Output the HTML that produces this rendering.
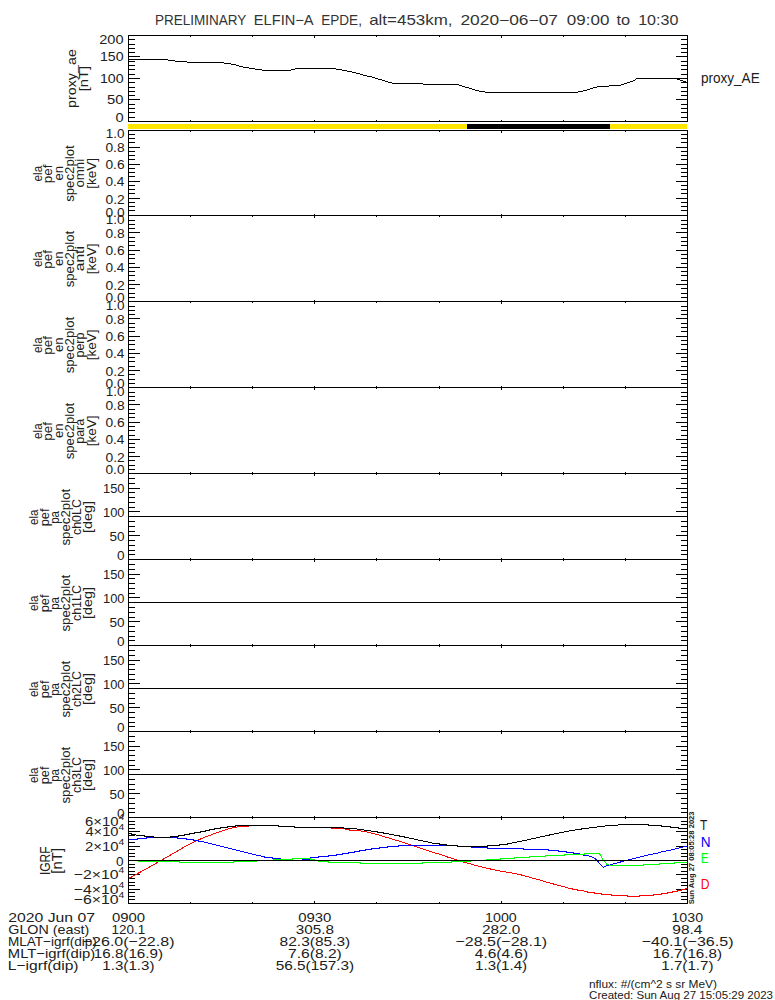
<!DOCTYPE html>
<html><head><meta charset="utf-8"><title>ELFIN-A EPDE</title>
<style>
html,body{margin:0;padding:0;background:#fff;}
svg{display:block;font-family:"Liberation Sans", sans-serif;}
</style></head>
<body>
<svg width="775" height="1000" viewBox="0 0 775 1000">
<rect x="0" y="0" width="775" height="1000" fill="#fff"/>
<text x="154.89" y="25" font-size="14.4" textLength="91.40" lengthAdjust="spacingAndGlyphs" fill="#333">PRELIMINARY</text>
<text x="253.80" y="25" font-size="14.4" textLength="59.83" lengthAdjust="spacingAndGlyphs" fill="#333">ELFIN−A</text>
<text x="321.29" y="25" font-size="14.4" textLength="40.63" lengthAdjust="spacingAndGlyphs" fill="#333">EPDE,</text>
<text x="369.18" y="25" font-size="14.4" textLength="83.34" lengthAdjust="spacingAndGlyphs" fill="#333">alt=453km,</text>
<text x="460.43" y="25" font-size="14.4" textLength="97.55" lengthAdjust="spacingAndGlyphs" fill="#333">2020−06−07</text>
<text x="566.84" y="25" font-size="14.4" textLength="42.53" lengthAdjust="spacingAndGlyphs" fill="#333">09:00</text>
<text x="616.55" y="25" font-size="14.4" textLength="13.63" lengthAdjust="spacingAndGlyphs" fill="#333">to</text>
<text x="638.17" y="25" font-size="14.4" textLength="40.25" lengthAdjust="spacingAndGlyphs" fill="#333">10:30</text>
<rect x="128" y="35" width="560" height="1" fill="#000"/>
<rect x="128" y="121" width="560" height="1" fill="#000"/>
<rect x="128" y="35" width="1" height="87" fill="#000"/>
<rect x="687" y="35" width="1" height="87" fill="#000"/>
<rect x="190" y="35" width="1" height="2" fill="#000"/>
<rect x="190" y="120" width="1" height="2" fill="#000"/>
<rect x="252" y="35" width="1" height="2" fill="#000"/>
<rect x="252" y="120" width="1" height="2" fill="#000"/>
<rect x="314" y="35" width="1" height="3" fill="#000"/>
<rect x="314" y="120" width="1" height="2" fill="#000"/>
<rect x="376" y="35" width="1" height="2" fill="#000"/>
<rect x="376" y="120" width="1" height="2" fill="#000"/>
<rect x="439" y="35" width="1" height="2" fill="#000"/>
<rect x="439" y="120" width="1" height="2" fill="#000"/>
<rect x="501" y="35" width="1" height="3" fill="#000"/>
<rect x="501" y="120" width="1" height="2" fill="#000"/>
<rect x="563" y="35" width="1" height="2" fill="#000"/>
<rect x="563" y="120" width="1" height="2" fill="#000"/>
<rect x="625" y="35" width="1" height="2" fill="#000"/>
<rect x="625" y="120" width="1" height="2" fill="#000"/>
<rect x="128" y="121" width="12" height="1" fill="#000"/>
<rect x="676" y="121" width="12" height="1" fill="#000"/>
<rect x="128" y="117" width="7" height="1" fill="#000"/>
<rect x="681" y="117" width="7" height="1" fill="#000"/>
<rect x="128" y="112" width="7" height="1" fill="#000"/>
<rect x="681" y="112" width="7" height="1" fill="#000"/>
<rect x="128" y="108" width="7" height="1" fill="#000"/>
<rect x="681" y="108" width="7" height="1" fill="#000"/>
<rect x="128" y="104" width="7" height="1" fill="#000"/>
<rect x="681" y="104" width="7" height="1" fill="#000"/>
<rect x="128" y="99" width="12" height="1" fill="#000"/>
<rect x="676" y="99" width="12" height="1" fill="#000"/>
<rect x="128" y="95" width="7" height="1" fill="#000"/>
<rect x="681" y="95" width="7" height="1" fill="#000"/>
<rect x="128" y="91" width="7" height="1" fill="#000"/>
<rect x="681" y="91" width="7" height="1" fill="#000"/>
<rect x="128" y="87" width="7" height="1" fill="#000"/>
<rect x="681" y="87" width="7" height="1" fill="#000"/>
<rect x="128" y="82" width="7" height="1" fill="#000"/>
<rect x="681" y="82" width="7" height="1" fill="#000"/>
<rect x="128" y="78" width="12" height="1" fill="#000"/>
<rect x="676" y="78" width="12" height="1" fill="#000"/>
<rect x="128" y="74" width="7" height="1" fill="#000"/>
<rect x="681" y="74" width="7" height="1" fill="#000"/>
<rect x="128" y="69" width="7" height="1" fill="#000"/>
<rect x="681" y="69" width="7" height="1" fill="#000"/>
<rect x="128" y="65" width="7" height="1" fill="#000"/>
<rect x="681" y="65" width="7" height="1" fill="#000"/>
<rect x="128" y="61" width="7" height="1" fill="#000"/>
<rect x="681" y="61" width="7" height="1" fill="#000"/>
<rect x="128" y="56" width="12" height="1" fill="#000"/>
<rect x="676" y="56" width="12" height="1" fill="#000"/>
<rect x="128" y="52" width="7" height="1" fill="#000"/>
<rect x="681" y="52" width="7" height="1" fill="#000"/>
<rect x="128" y="48" width="7" height="1" fill="#000"/>
<rect x="681" y="48" width="7" height="1" fill="#000"/>
<rect x="128" y="44" width="7" height="1" fill="#000"/>
<rect x="681" y="44" width="7" height="1" fill="#000"/>
<rect x="128" y="39" width="7" height="1" fill="#000"/>
<rect x="681" y="39" width="7" height="1" fill="#000"/>
<rect x="128" y="35" width="12" height="1" fill="#000"/>
<rect x="676" y="35" width="12" height="1" fill="#000"/>
<text x="115.43" y="122" font-size="13.0" textLength="8.14" lengthAdjust="spacingAndGlyphs" fill="#202020">0</text>
<text x="107.11" y="104" font-size="13.0" textLength="16.47" lengthAdjust="spacingAndGlyphs" fill="#202020">50</text>
<text x="99.92" y="83" font-size="13.0" textLength="23.63" lengthAdjust="spacingAndGlyphs" fill="#202020">100</text>
<text x="99.92" y="61" font-size="13.0" textLength="23.63" lengthAdjust="spacingAndGlyphs" fill="#202020">150</text>
<text x="99.27" y="44" font-size="13.0" textLength="24.30" lengthAdjust="spacingAndGlyphs" fill="#202020">200</text>
<rect x="128" y="130" width="560" height="1" fill="#000"/>
<rect x="128" y="215" width="560" height="1" fill="#000"/>
<rect x="128" y="130" width="1" height="86" fill="#000"/>
<rect x="687" y="130" width="1" height="86" fill="#000"/>
<rect x="190" y="130" width="1" height="2" fill="#000"/>
<rect x="190" y="215" width="1" height="1" fill="#000"/>
<rect x="252" y="130" width="1" height="2" fill="#000"/>
<rect x="252" y="215" width="1" height="1" fill="#000"/>
<rect x="314" y="130" width="1" height="3" fill="#000"/>
<rect x="314" y="214" width="1" height="2" fill="#000"/>
<rect x="376" y="130" width="1" height="2" fill="#000"/>
<rect x="376" y="215" width="1" height="1" fill="#000"/>
<rect x="439" y="130" width="1" height="2" fill="#000"/>
<rect x="439" y="215" width="1" height="1" fill="#000"/>
<rect x="501" y="130" width="1" height="3" fill="#000"/>
<rect x="501" y="214" width="1" height="2" fill="#000"/>
<rect x="563" y="130" width="1" height="2" fill="#000"/>
<rect x="563" y="215" width="1" height="1" fill="#000"/>
<rect x="625" y="130" width="1" height="2" fill="#000"/>
<rect x="625" y="215" width="1" height="1" fill="#000"/>
<rect x="128" y="215" width="12" height="1" fill="#000"/>
<rect x="676" y="215" width="12" height="1" fill="#000"/>
<rect x="128" y="210" width="7" height="1" fill="#000"/>
<rect x="681" y="210" width="7" height="1" fill="#000"/>
<rect x="128" y="206" width="7" height="1" fill="#000"/>
<rect x="681" y="206" width="7" height="1" fill="#000"/>
<rect x="128" y="202" width="7" height="1" fill="#000"/>
<rect x="681" y="202" width="7" height="1" fill="#000"/>
<rect x="128" y="198" width="12" height="1" fill="#000"/>
<rect x="676" y="198" width="12" height="1" fill="#000"/>
<rect x="128" y="193" width="7" height="1" fill="#000"/>
<rect x="681" y="193" width="7" height="1" fill="#000"/>
<rect x="128" y="189" width="7" height="1" fill="#000"/>
<rect x="681" y="189" width="7" height="1" fill="#000"/>
<rect x="128" y="185" width="7" height="1" fill="#000"/>
<rect x="681" y="185" width="7" height="1" fill="#000"/>
<rect x="128" y="181" width="12" height="1" fill="#000"/>
<rect x="676" y="181" width="12" height="1" fill="#000"/>
<rect x="128" y="176" width="7" height="1" fill="#000"/>
<rect x="681" y="176" width="7" height="1" fill="#000"/>
<rect x="128" y="172" width="7" height="1" fill="#000"/>
<rect x="681" y="172" width="7" height="1" fill="#000"/>
<rect x="128" y="168" width="7" height="1" fill="#000"/>
<rect x="681" y="168" width="7" height="1" fill="#000"/>
<rect x="128" y="164" width="12" height="1" fill="#000"/>
<rect x="676" y="164" width="12" height="1" fill="#000"/>
<rect x="128" y="159" width="7" height="1" fill="#000"/>
<rect x="681" y="159" width="7" height="1" fill="#000"/>
<rect x="128" y="155" width="7" height="1" fill="#000"/>
<rect x="681" y="155" width="7" height="1" fill="#000"/>
<rect x="128" y="151" width="7" height="1" fill="#000"/>
<rect x="681" y="151" width="7" height="1" fill="#000"/>
<rect x="128" y="147" width="12" height="1" fill="#000"/>
<rect x="676" y="147" width="12" height="1" fill="#000"/>
<rect x="128" y="142" width="7" height="1" fill="#000"/>
<rect x="681" y="142" width="7" height="1" fill="#000"/>
<rect x="128" y="138" width="7" height="1" fill="#000"/>
<rect x="681" y="138" width="7" height="1" fill="#000"/>
<rect x="128" y="134" width="7" height="1" fill="#000"/>
<rect x="681" y="134" width="7" height="1" fill="#000"/>
<rect x="128" y="130" width="12" height="1" fill="#000"/>
<rect x="676" y="130" width="12" height="1" fill="#000"/>
<text x="105.46" y="216.6" font-size="13.0" textLength="19.07" lengthAdjust="spacingAndGlyphs" fill="#202020">0.0</text>
<text x="105.46" y="204" font-size="13.0" textLength="19.24" lengthAdjust="spacingAndGlyphs" fill="#202020">0.2</text>
<text x="105.47" y="186" font-size="13.0" textLength="18.93" lengthAdjust="spacingAndGlyphs" fill="#202020">0.4</text>
<text x="105.46" y="169" font-size="13.0" textLength="19.14" lengthAdjust="spacingAndGlyphs" fill="#202020">0.6</text>
<text x="105.46" y="152" font-size="13.0" textLength="19.14" lengthAdjust="spacingAndGlyphs" fill="#202020">0.8</text>
<text x="105.77" y="138" font-size="13.0" textLength="18.75" lengthAdjust="spacingAndGlyphs" fill="#202020">1.0</text>
<rect x="128" y="215" width="560" height="1" fill="#000"/>
<rect x="128" y="301" width="560" height="1" fill="#000"/>
<rect x="128" y="215" width="1" height="87" fill="#000"/>
<rect x="687" y="215" width="1" height="87" fill="#000"/>
<rect x="190" y="215" width="1" height="2" fill="#000"/>
<rect x="190" y="301" width="1" height="1" fill="#000"/>
<rect x="252" y="215" width="1" height="2" fill="#000"/>
<rect x="252" y="301" width="1" height="1" fill="#000"/>
<rect x="314" y="215" width="1" height="3" fill="#000"/>
<rect x="314" y="300" width="1" height="2" fill="#000"/>
<rect x="376" y="215" width="1" height="2" fill="#000"/>
<rect x="376" y="301" width="1" height="1" fill="#000"/>
<rect x="439" y="215" width="1" height="2" fill="#000"/>
<rect x="439" y="301" width="1" height="1" fill="#000"/>
<rect x="501" y="215" width="1" height="3" fill="#000"/>
<rect x="501" y="300" width="1" height="2" fill="#000"/>
<rect x="563" y="215" width="1" height="2" fill="#000"/>
<rect x="563" y="301" width="1" height="1" fill="#000"/>
<rect x="625" y="215" width="1" height="2" fill="#000"/>
<rect x="625" y="301" width="1" height="1" fill="#000"/>
<rect x="128" y="301" width="12" height="1" fill="#000"/>
<rect x="676" y="301" width="12" height="1" fill="#000"/>
<rect x="128" y="297" width="7" height="1" fill="#000"/>
<rect x="681" y="297" width="7" height="1" fill="#000"/>
<rect x="128" y="293" width="7" height="1" fill="#000"/>
<rect x="681" y="293" width="7" height="1" fill="#000"/>
<rect x="128" y="288" width="7" height="1" fill="#000"/>
<rect x="681" y="288" width="7" height="1" fill="#000"/>
<rect x="128" y="284" width="12" height="1" fill="#000"/>
<rect x="676" y="284" width="12" height="1" fill="#000"/>
<rect x="128" y="280" width="7" height="1" fill="#000"/>
<rect x="681" y="280" width="7" height="1" fill="#000"/>
<rect x="128" y="275" width="7" height="1" fill="#000"/>
<rect x="681" y="275" width="7" height="1" fill="#000"/>
<rect x="128" y="271" width="7" height="1" fill="#000"/>
<rect x="681" y="271" width="7" height="1" fill="#000"/>
<rect x="128" y="267" width="12" height="1" fill="#000"/>
<rect x="676" y="267" width="12" height="1" fill="#000"/>
<rect x="128" y="263" width="7" height="1" fill="#000"/>
<rect x="681" y="263" width="7" height="1" fill="#000"/>
<rect x="128" y="258" width="7" height="1" fill="#000"/>
<rect x="681" y="258" width="7" height="1" fill="#000"/>
<rect x="128" y="254" width="7" height="1" fill="#000"/>
<rect x="681" y="254" width="7" height="1" fill="#000"/>
<rect x="128" y="250" width="12" height="1" fill="#000"/>
<rect x="676" y="250" width="12" height="1" fill="#000"/>
<rect x="128" y="245" width="7" height="1" fill="#000"/>
<rect x="681" y="245" width="7" height="1" fill="#000"/>
<rect x="128" y="241" width="7" height="1" fill="#000"/>
<rect x="681" y="241" width="7" height="1" fill="#000"/>
<rect x="128" y="237" width="7" height="1" fill="#000"/>
<rect x="681" y="237" width="7" height="1" fill="#000"/>
<rect x="128" y="232" width="12" height="1" fill="#000"/>
<rect x="676" y="232" width="12" height="1" fill="#000"/>
<rect x="128" y="228" width="7" height="1" fill="#000"/>
<rect x="681" y="228" width="7" height="1" fill="#000"/>
<rect x="128" y="224" width="7" height="1" fill="#000"/>
<rect x="681" y="224" width="7" height="1" fill="#000"/>
<rect x="128" y="220" width="7" height="1" fill="#000"/>
<rect x="681" y="220" width="7" height="1" fill="#000"/>
<rect x="128" y="215" width="12" height="1" fill="#000"/>
<rect x="676" y="215" width="12" height="1" fill="#000"/>
<text x="105.46" y="302" font-size="13.0" textLength="19.07" lengthAdjust="spacingAndGlyphs" fill="#202020">0.0</text>
<text x="105.46" y="290" font-size="13.0" textLength="19.24" lengthAdjust="spacingAndGlyphs" fill="#202020">0.2</text>
<text x="105.47" y="272" font-size="13.0" textLength="18.93" lengthAdjust="spacingAndGlyphs" fill="#202020">0.4</text>
<text x="105.46" y="255" font-size="13.0" textLength="19.14" lengthAdjust="spacingAndGlyphs" fill="#202020">0.6</text>
<text x="105.46" y="238" font-size="13.0" textLength="19.14" lengthAdjust="spacingAndGlyphs" fill="#202020">0.8</text>
<text x="105.77" y="224" font-size="13.0" textLength="18.75" lengthAdjust="spacingAndGlyphs" fill="#202020">1.0</text>
<rect x="128" y="301" width="560" height="1" fill="#000"/>
<rect x="128" y="387" width="560" height="1" fill="#000"/>
<rect x="128" y="301" width="1" height="87" fill="#000"/>
<rect x="687" y="301" width="1" height="87" fill="#000"/>
<rect x="190" y="301" width="1" height="2" fill="#000"/>
<rect x="190" y="386" width="1" height="2" fill="#000"/>
<rect x="252" y="301" width="1" height="2" fill="#000"/>
<rect x="252" y="386" width="1" height="2" fill="#000"/>
<rect x="314" y="301" width="1" height="3" fill="#000"/>
<rect x="314" y="386" width="1" height="2" fill="#000"/>
<rect x="376" y="301" width="1" height="2" fill="#000"/>
<rect x="376" y="386" width="1" height="2" fill="#000"/>
<rect x="439" y="301" width="1" height="2" fill="#000"/>
<rect x="439" y="386" width="1" height="2" fill="#000"/>
<rect x="501" y="301" width="1" height="3" fill="#000"/>
<rect x="501" y="386" width="1" height="2" fill="#000"/>
<rect x="563" y="301" width="1" height="2" fill="#000"/>
<rect x="563" y="386" width="1" height="2" fill="#000"/>
<rect x="625" y="301" width="1" height="2" fill="#000"/>
<rect x="625" y="386" width="1" height="2" fill="#000"/>
<rect x="128" y="387" width="12" height="1" fill="#000"/>
<rect x="676" y="387" width="12" height="1" fill="#000"/>
<rect x="128" y="383" width="7" height="1" fill="#000"/>
<rect x="681" y="383" width="7" height="1" fill="#000"/>
<rect x="128" y="379" width="7" height="1" fill="#000"/>
<rect x="681" y="379" width="7" height="1" fill="#000"/>
<rect x="128" y="374" width="7" height="1" fill="#000"/>
<rect x="681" y="374" width="7" height="1" fill="#000"/>
<rect x="128" y="370" width="12" height="1" fill="#000"/>
<rect x="676" y="370" width="12" height="1" fill="#000"/>
<rect x="128" y="366" width="7" height="1" fill="#000"/>
<rect x="681" y="366" width="7" height="1" fill="#000"/>
<rect x="128" y="361" width="7" height="1" fill="#000"/>
<rect x="681" y="361" width="7" height="1" fill="#000"/>
<rect x="128" y="357" width="7" height="1" fill="#000"/>
<rect x="681" y="357" width="7" height="1" fill="#000"/>
<rect x="128" y="353" width="12" height="1" fill="#000"/>
<rect x="676" y="353" width="12" height="1" fill="#000"/>
<rect x="128" y="349" width="7" height="1" fill="#000"/>
<rect x="681" y="349" width="7" height="1" fill="#000"/>
<rect x="128" y="344" width="7" height="1" fill="#000"/>
<rect x="681" y="344" width="7" height="1" fill="#000"/>
<rect x="128" y="340" width="7" height="1" fill="#000"/>
<rect x="681" y="340" width="7" height="1" fill="#000"/>
<rect x="128" y="336" width="12" height="1" fill="#000"/>
<rect x="676" y="336" width="12" height="1" fill="#000"/>
<rect x="128" y="331" width="7" height="1" fill="#000"/>
<rect x="681" y="331" width="7" height="1" fill="#000"/>
<rect x="128" y="327" width="7" height="1" fill="#000"/>
<rect x="681" y="327" width="7" height="1" fill="#000"/>
<rect x="128" y="323" width="7" height="1" fill="#000"/>
<rect x="681" y="323" width="7" height="1" fill="#000"/>
<rect x="128" y="318" width="12" height="1" fill="#000"/>
<rect x="676" y="318" width="12" height="1" fill="#000"/>
<rect x="128" y="314" width="7" height="1" fill="#000"/>
<rect x="681" y="314" width="7" height="1" fill="#000"/>
<rect x="128" y="310" width="7" height="1" fill="#000"/>
<rect x="681" y="310" width="7" height="1" fill="#000"/>
<rect x="128" y="306" width="7" height="1" fill="#000"/>
<rect x="681" y="306" width="7" height="1" fill="#000"/>
<rect x="128" y="301" width="12" height="1" fill="#000"/>
<rect x="676" y="301" width="12" height="1" fill="#000"/>
<text x="105.46" y="388" font-size="13.0" textLength="19.07" lengthAdjust="spacingAndGlyphs" fill="#202020">0.0</text>
<text x="105.46" y="376" font-size="13.0" textLength="19.24" lengthAdjust="spacingAndGlyphs" fill="#202020">0.2</text>
<text x="105.47" y="358" font-size="13.0" textLength="18.93" lengthAdjust="spacingAndGlyphs" fill="#202020">0.4</text>
<text x="105.46" y="341" font-size="13.0" textLength="19.14" lengthAdjust="spacingAndGlyphs" fill="#202020">0.6</text>
<text x="105.46" y="324" font-size="13.0" textLength="19.14" lengthAdjust="spacingAndGlyphs" fill="#202020">0.8</text>
<text x="105.77" y="310" font-size="13.0" textLength="18.75" lengthAdjust="spacingAndGlyphs" fill="#202020">1.0</text>
<rect x="128" y="387" width="560" height="1" fill="#000"/>
<rect x="128" y="473" width="560" height="1" fill="#000"/>
<rect x="128" y="387" width="1" height="87" fill="#000"/>
<rect x="687" y="387" width="1" height="87" fill="#000"/>
<rect x="190" y="387" width="1" height="2" fill="#000"/>
<rect x="190" y="472" width="1" height="2" fill="#000"/>
<rect x="252" y="387" width="1" height="2" fill="#000"/>
<rect x="252" y="472" width="1" height="2" fill="#000"/>
<rect x="314" y="387" width="1" height="3" fill="#000"/>
<rect x="314" y="472" width="1" height="2" fill="#000"/>
<rect x="376" y="387" width="1" height="2" fill="#000"/>
<rect x="376" y="472" width="1" height="2" fill="#000"/>
<rect x="439" y="387" width="1" height="2" fill="#000"/>
<rect x="439" y="472" width="1" height="2" fill="#000"/>
<rect x="501" y="387" width="1" height="3" fill="#000"/>
<rect x="501" y="472" width="1" height="2" fill="#000"/>
<rect x="563" y="387" width="1" height="2" fill="#000"/>
<rect x="563" y="472" width="1" height="2" fill="#000"/>
<rect x="625" y="387" width="1" height="2" fill="#000"/>
<rect x="625" y="472" width="1" height="2" fill="#000"/>
<rect x="128" y="473" width="12" height="1" fill="#000"/>
<rect x="676" y="473" width="12" height="1" fill="#000"/>
<rect x="128" y="469" width="7" height="1" fill="#000"/>
<rect x="681" y="469" width="7" height="1" fill="#000"/>
<rect x="128" y="465" width="7" height="1" fill="#000"/>
<rect x="681" y="465" width="7" height="1" fill="#000"/>
<rect x="128" y="460" width="7" height="1" fill="#000"/>
<rect x="681" y="460" width="7" height="1" fill="#000"/>
<rect x="128" y="456" width="12" height="1" fill="#000"/>
<rect x="676" y="456" width="12" height="1" fill="#000"/>
<rect x="128" y="452" width="7" height="1" fill="#000"/>
<rect x="681" y="452" width="7" height="1" fill="#000"/>
<rect x="128" y="447" width="7" height="1" fill="#000"/>
<rect x="681" y="447" width="7" height="1" fill="#000"/>
<rect x="128" y="443" width="7" height="1" fill="#000"/>
<rect x="681" y="443" width="7" height="1" fill="#000"/>
<rect x="128" y="439" width="12" height="1" fill="#000"/>
<rect x="676" y="439" width="12" height="1" fill="#000"/>
<rect x="128" y="435" width="7" height="1" fill="#000"/>
<rect x="681" y="435" width="7" height="1" fill="#000"/>
<rect x="128" y="430" width="7" height="1" fill="#000"/>
<rect x="681" y="430" width="7" height="1" fill="#000"/>
<rect x="128" y="426" width="7" height="1" fill="#000"/>
<rect x="681" y="426" width="7" height="1" fill="#000"/>
<rect x="128" y="422" width="12" height="1" fill="#000"/>
<rect x="676" y="422" width="12" height="1" fill="#000"/>
<rect x="128" y="417" width="7" height="1" fill="#000"/>
<rect x="681" y="417" width="7" height="1" fill="#000"/>
<rect x="128" y="413" width="7" height="1" fill="#000"/>
<rect x="681" y="413" width="7" height="1" fill="#000"/>
<rect x="128" y="409" width="7" height="1" fill="#000"/>
<rect x="681" y="409" width="7" height="1" fill="#000"/>
<rect x="128" y="404" width="12" height="1" fill="#000"/>
<rect x="676" y="404" width="12" height="1" fill="#000"/>
<rect x="128" y="400" width="7" height="1" fill="#000"/>
<rect x="681" y="400" width="7" height="1" fill="#000"/>
<rect x="128" y="396" width="7" height="1" fill="#000"/>
<rect x="681" y="396" width="7" height="1" fill="#000"/>
<rect x="128" y="392" width="7" height="1" fill="#000"/>
<rect x="681" y="392" width="7" height="1" fill="#000"/>
<rect x="128" y="387" width="12" height="1" fill="#000"/>
<rect x="676" y="387" width="12" height="1" fill="#000"/>
<text x="105.46" y="474" font-size="13.0" textLength="19.07" lengthAdjust="spacingAndGlyphs" fill="#202020">0.0</text>
<text x="105.46" y="462" font-size="13.0" textLength="19.24" lengthAdjust="spacingAndGlyphs" fill="#202020">0.2</text>
<text x="105.47" y="444" font-size="13.0" textLength="18.93" lengthAdjust="spacingAndGlyphs" fill="#202020">0.4</text>
<text x="105.46" y="427" font-size="13.0" textLength="19.14" lengthAdjust="spacingAndGlyphs" fill="#202020">0.6</text>
<text x="105.46" y="410" font-size="13.0" textLength="19.14" lengthAdjust="spacingAndGlyphs" fill="#202020">0.8</text>
<text x="105.77" y="396" font-size="13.0" textLength="18.75" lengthAdjust="spacingAndGlyphs" fill="#202020">1.0</text>
<rect x="128" y="473" width="560" height="1" fill="#000"/>
<rect x="128" y="559" width="560" height="1" fill="#000"/>
<rect x="128" y="473" width="1" height="87" fill="#000"/>
<rect x="687" y="473" width="1" height="87" fill="#000"/>
<rect x="190" y="473" width="1" height="2" fill="#000"/>
<rect x="190" y="558" width="1" height="2" fill="#000"/>
<rect x="252" y="473" width="1" height="2" fill="#000"/>
<rect x="252" y="558" width="1" height="2" fill="#000"/>
<rect x="314" y="473" width="1" height="3" fill="#000"/>
<rect x="314" y="558" width="1" height="2" fill="#000"/>
<rect x="376" y="473" width="1" height="2" fill="#000"/>
<rect x="376" y="558" width="1" height="2" fill="#000"/>
<rect x="439" y="473" width="1" height="2" fill="#000"/>
<rect x="439" y="558" width="1" height="2" fill="#000"/>
<rect x="501" y="473" width="1" height="3" fill="#000"/>
<rect x="501" y="558" width="1" height="2" fill="#000"/>
<rect x="563" y="473" width="1" height="2" fill="#000"/>
<rect x="563" y="558" width="1" height="2" fill="#000"/>
<rect x="625" y="473" width="1" height="2" fill="#000"/>
<rect x="625" y="558" width="1" height="2" fill="#000"/>
<rect x="128" y="559" width="7" height="1" fill="#000"/>
<rect x="681" y="559" width="7" height="1" fill="#000"/>
<rect x="128" y="554" width="7" height="1" fill="#000"/>
<rect x="681" y="554" width="7" height="1" fill="#000"/>
<rect x="128" y="550" width="7" height="1" fill="#000"/>
<rect x="681" y="550" width="7" height="1" fill="#000"/>
<rect x="128" y="545" width="7" height="1" fill="#000"/>
<rect x="681" y="545" width="7" height="1" fill="#000"/>
<rect x="128" y="540" width="7" height="1" fill="#000"/>
<rect x="681" y="540" width="7" height="1" fill="#000"/>
<rect x="128" y="535" width="7" height="1" fill="#000"/>
<rect x="681" y="535" width="7" height="1" fill="#000"/>
<rect x="128" y="531" width="7" height="1" fill="#000"/>
<rect x="681" y="531" width="7" height="1" fill="#000"/>
<rect x="128" y="526" width="7" height="1" fill="#000"/>
<rect x="681" y="526" width="7" height="1" fill="#000"/>
<rect x="128" y="521" width="7" height="1" fill="#000"/>
<rect x="681" y="521" width="7" height="1" fill="#000"/>
<rect x="128" y="516" width="7" height="1" fill="#000"/>
<rect x="681" y="516" width="7" height="1" fill="#000"/>
<rect x="128" y="511" width="7" height="1" fill="#000"/>
<rect x="681" y="511" width="7" height="1" fill="#000"/>
<rect x="128" y="507" width="7" height="1" fill="#000"/>
<rect x="681" y="507" width="7" height="1" fill="#000"/>
<rect x="128" y="502" width="7" height="1" fill="#000"/>
<rect x="681" y="502" width="7" height="1" fill="#000"/>
<rect x="128" y="497" width="7" height="1" fill="#000"/>
<rect x="681" y="497" width="7" height="1" fill="#000"/>
<rect x="128" y="492" width="7" height="1" fill="#000"/>
<rect x="681" y="492" width="7" height="1" fill="#000"/>
<rect x="128" y="488" width="7" height="1" fill="#000"/>
<rect x="681" y="488" width="7" height="1" fill="#000"/>
<rect x="128" y="483" width="7" height="1" fill="#000"/>
<rect x="681" y="483" width="7" height="1" fill="#000"/>
<rect x="128" y="478" width="7" height="1" fill="#000"/>
<rect x="681" y="478" width="7" height="1" fill="#000"/>
<rect x="128" y="473" width="7" height="1" fill="#000"/>
<rect x="681" y="473" width="7" height="1" fill="#000"/>
<rect x="128" y="535" width="12" height="1" fill="#000"/>
<rect x="676" y="535" width="12" height="1" fill="#000"/>
<rect x="128" y="511" width="12" height="1" fill="#000"/>
<rect x="676" y="511" width="12" height="1" fill="#000"/>
<rect x="128" y="488" width="12" height="1" fill="#000"/>
<rect x="676" y="488" width="12" height="1" fill="#000"/>
<text x="116.97" y="560" font-size="13.0" textLength="7.56" lengthAdjust="spacingAndGlyphs" fill="#202020">0</text>
<text x="109.46" y="541" font-size="13.0" textLength="15.07" lengthAdjust="spacingAndGlyphs" fill="#202020">50</text>
<text x="103.02" y="517" font-size="13.0" textLength="21.48" lengthAdjust="spacingAndGlyphs" fill="#202020">100</text>
<text x="103.02" y="493" font-size="13.0" textLength="21.48" lengthAdjust="spacingAndGlyphs" fill="#202020">150</text>
<rect x="128" y="516" width="560" height="1" fill="#000"/>
<rect x="128" y="559" width="560" height="1" fill="#000"/>
<rect x="128" y="645" width="560" height="1" fill="#000"/>
<rect x="128" y="559" width="1" height="87" fill="#000"/>
<rect x="687" y="559" width="1" height="87" fill="#000"/>
<rect x="190" y="559" width="1" height="2" fill="#000"/>
<rect x="190" y="644" width="1" height="2" fill="#000"/>
<rect x="252" y="559" width="1" height="2" fill="#000"/>
<rect x="252" y="644" width="1" height="2" fill="#000"/>
<rect x="314" y="559" width="1" height="3" fill="#000"/>
<rect x="314" y="644" width="1" height="2" fill="#000"/>
<rect x="376" y="559" width="1" height="2" fill="#000"/>
<rect x="376" y="644" width="1" height="2" fill="#000"/>
<rect x="439" y="559" width="1" height="2" fill="#000"/>
<rect x="439" y="644" width="1" height="2" fill="#000"/>
<rect x="501" y="559" width="1" height="3" fill="#000"/>
<rect x="501" y="644" width="1" height="2" fill="#000"/>
<rect x="563" y="559" width="1" height="2" fill="#000"/>
<rect x="563" y="644" width="1" height="2" fill="#000"/>
<rect x="625" y="559" width="1" height="2" fill="#000"/>
<rect x="625" y="644" width="1" height="2" fill="#000"/>
<rect x="128" y="645" width="7" height="1" fill="#000"/>
<rect x="681" y="645" width="7" height="1" fill="#000"/>
<rect x="128" y="640" width="7" height="1" fill="#000"/>
<rect x="681" y="640" width="7" height="1" fill="#000"/>
<rect x="128" y="636" width="7" height="1" fill="#000"/>
<rect x="681" y="636" width="7" height="1" fill="#000"/>
<rect x="128" y="631" width="7" height="1" fill="#000"/>
<rect x="681" y="631" width="7" height="1" fill="#000"/>
<rect x="128" y="626" width="7" height="1" fill="#000"/>
<rect x="681" y="626" width="7" height="1" fill="#000"/>
<rect x="128" y="621" width="7" height="1" fill="#000"/>
<rect x="681" y="621" width="7" height="1" fill="#000"/>
<rect x="128" y="617" width="7" height="1" fill="#000"/>
<rect x="681" y="617" width="7" height="1" fill="#000"/>
<rect x="128" y="612" width="7" height="1" fill="#000"/>
<rect x="681" y="612" width="7" height="1" fill="#000"/>
<rect x="128" y="607" width="7" height="1" fill="#000"/>
<rect x="681" y="607" width="7" height="1" fill="#000"/>
<rect x="128" y="602" width="7" height="1" fill="#000"/>
<rect x="681" y="602" width="7" height="1" fill="#000"/>
<rect x="128" y="597" width="7" height="1" fill="#000"/>
<rect x="681" y="597" width="7" height="1" fill="#000"/>
<rect x="128" y="593" width="7" height="1" fill="#000"/>
<rect x="681" y="593" width="7" height="1" fill="#000"/>
<rect x="128" y="588" width="7" height="1" fill="#000"/>
<rect x="681" y="588" width="7" height="1" fill="#000"/>
<rect x="128" y="583" width="7" height="1" fill="#000"/>
<rect x="681" y="583" width="7" height="1" fill="#000"/>
<rect x="128" y="578" width="7" height="1" fill="#000"/>
<rect x="681" y="578" width="7" height="1" fill="#000"/>
<rect x="128" y="574" width="7" height="1" fill="#000"/>
<rect x="681" y="574" width="7" height="1" fill="#000"/>
<rect x="128" y="569" width="7" height="1" fill="#000"/>
<rect x="681" y="569" width="7" height="1" fill="#000"/>
<rect x="128" y="564" width="7" height="1" fill="#000"/>
<rect x="681" y="564" width="7" height="1" fill="#000"/>
<rect x="128" y="559" width="7" height="1" fill="#000"/>
<rect x="681" y="559" width="7" height="1" fill="#000"/>
<rect x="128" y="621" width="12" height="1" fill="#000"/>
<rect x="676" y="621" width="12" height="1" fill="#000"/>
<rect x="128" y="597" width="12" height="1" fill="#000"/>
<rect x="676" y="597" width="12" height="1" fill="#000"/>
<rect x="128" y="574" width="12" height="1" fill="#000"/>
<rect x="676" y="574" width="12" height="1" fill="#000"/>
<text x="116.97" y="646" font-size="13.0" textLength="7.56" lengthAdjust="spacingAndGlyphs" fill="#202020">0</text>
<text x="109.46" y="627" font-size="13.0" textLength="15.07" lengthAdjust="spacingAndGlyphs" fill="#202020">50</text>
<text x="103.02" y="603" font-size="13.0" textLength="21.48" lengthAdjust="spacingAndGlyphs" fill="#202020">100</text>
<text x="103.02" y="579" font-size="13.0" textLength="21.48" lengthAdjust="spacingAndGlyphs" fill="#202020">150</text>
<rect x="128" y="602" width="560" height="1" fill="#000"/>
<rect x="128" y="645" width="560" height="1" fill="#000"/>
<rect x="128" y="731" width="560" height="1" fill="#000"/>
<rect x="128" y="645" width="1" height="87" fill="#000"/>
<rect x="687" y="645" width="1" height="87" fill="#000"/>
<rect x="190" y="645" width="1" height="2" fill="#000"/>
<rect x="190" y="730" width="1" height="2" fill="#000"/>
<rect x="252" y="645" width="1" height="2" fill="#000"/>
<rect x="252" y="730" width="1" height="2" fill="#000"/>
<rect x="314" y="645" width="1" height="3" fill="#000"/>
<rect x="314" y="730" width="1" height="2" fill="#000"/>
<rect x="376" y="645" width="1" height="2" fill="#000"/>
<rect x="376" y="730" width="1" height="2" fill="#000"/>
<rect x="439" y="645" width="1" height="2" fill="#000"/>
<rect x="439" y="730" width="1" height="2" fill="#000"/>
<rect x="501" y="645" width="1" height="3" fill="#000"/>
<rect x="501" y="730" width="1" height="2" fill="#000"/>
<rect x="563" y="645" width="1" height="2" fill="#000"/>
<rect x="563" y="730" width="1" height="2" fill="#000"/>
<rect x="625" y="645" width="1" height="2" fill="#000"/>
<rect x="625" y="730" width="1" height="2" fill="#000"/>
<rect x="128" y="731" width="7" height="1" fill="#000"/>
<rect x="681" y="731" width="7" height="1" fill="#000"/>
<rect x="128" y="726" width="7" height="1" fill="#000"/>
<rect x="681" y="726" width="7" height="1" fill="#000"/>
<rect x="128" y="722" width="7" height="1" fill="#000"/>
<rect x="681" y="722" width="7" height="1" fill="#000"/>
<rect x="128" y="717" width="7" height="1" fill="#000"/>
<rect x="681" y="717" width="7" height="1" fill="#000"/>
<rect x="128" y="712" width="7" height="1" fill="#000"/>
<rect x="681" y="712" width="7" height="1" fill="#000"/>
<rect x="128" y="707" width="7" height="1" fill="#000"/>
<rect x="681" y="707" width="7" height="1" fill="#000"/>
<rect x="128" y="703" width="7" height="1" fill="#000"/>
<rect x="681" y="703" width="7" height="1" fill="#000"/>
<rect x="128" y="698" width="7" height="1" fill="#000"/>
<rect x="681" y="698" width="7" height="1" fill="#000"/>
<rect x="128" y="693" width="7" height="1" fill="#000"/>
<rect x="681" y="693" width="7" height="1" fill="#000"/>
<rect x="128" y="688" width="7" height="1" fill="#000"/>
<rect x="681" y="688" width="7" height="1" fill="#000"/>
<rect x="128" y="683" width="7" height="1" fill="#000"/>
<rect x="681" y="683" width="7" height="1" fill="#000"/>
<rect x="128" y="679" width="7" height="1" fill="#000"/>
<rect x="681" y="679" width="7" height="1" fill="#000"/>
<rect x="128" y="674" width="7" height="1" fill="#000"/>
<rect x="681" y="674" width="7" height="1" fill="#000"/>
<rect x="128" y="669" width="7" height="1" fill="#000"/>
<rect x="681" y="669" width="7" height="1" fill="#000"/>
<rect x="128" y="664" width="7" height="1" fill="#000"/>
<rect x="681" y="664" width="7" height="1" fill="#000"/>
<rect x="128" y="660" width="7" height="1" fill="#000"/>
<rect x="681" y="660" width="7" height="1" fill="#000"/>
<rect x="128" y="655" width="7" height="1" fill="#000"/>
<rect x="681" y="655" width="7" height="1" fill="#000"/>
<rect x="128" y="650" width="7" height="1" fill="#000"/>
<rect x="681" y="650" width="7" height="1" fill="#000"/>
<rect x="128" y="645" width="7" height="1" fill="#000"/>
<rect x="681" y="645" width="7" height="1" fill="#000"/>
<rect x="128" y="707" width="12" height="1" fill="#000"/>
<rect x="676" y="707" width="12" height="1" fill="#000"/>
<rect x="128" y="683" width="12" height="1" fill="#000"/>
<rect x="676" y="683" width="12" height="1" fill="#000"/>
<rect x="128" y="660" width="12" height="1" fill="#000"/>
<rect x="676" y="660" width="12" height="1" fill="#000"/>
<text x="116.97" y="732" font-size="13.0" textLength="7.56" lengthAdjust="spacingAndGlyphs" fill="#202020">0</text>
<text x="109.46" y="713" font-size="13.0" textLength="15.07" lengthAdjust="spacingAndGlyphs" fill="#202020">50</text>
<text x="103.02" y="689" font-size="13.0" textLength="21.48" lengthAdjust="spacingAndGlyphs" fill="#202020">100</text>
<text x="103.02" y="665" font-size="13.0" textLength="21.48" lengthAdjust="spacingAndGlyphs" fill="#202020">150</text>
<rect x="128" y="688" width="560" height="1" fill="#000"/>
<rect x="128" y="731" width="560" height="1" fill="#000"/>
<rect x="128" y="817" width="560" height="1" fill="#000"/>
<rect x="128" y="731" width="1" height="87" fill="#000"/>
<rect x="687" y="731" width="1" height="87" fill="#000"/>
<rect x="190" y="731" width="1" height="2" fill="#000"/>
<rect x="190" y="816" width="1" height="2" fill="#000"/>
<rect x="252" y="731" width="1" height="2" fill="#000"/>
<rect x="252" y="816" width="1" height="2" fill="#000"/>
<rect x="314" y="731" width="1" height="3" fill="#000"/>
<rect x="314" y="816" width="1" height="2" fill="#000"/>
<rect x="376" y="731" width="1" height="2" fill="#000"/>
<rect x="376" y="816" width="1" height="2" fill="#000"/>
<rect x="439" y="731" width="1" height="2" fill="#000"/>
<rect x="439" y="816" width="1" height="2" fill="#000"/>
<rect x="501" y="731" width="1" height="3" fill="#000"/>
<rect x="501" y="816" width="1" height="2" fill="#000"/>
<rect x="563" y="731" width="1" height="2" fill="#000"/>
<rect x="563" y="816" width="1" height="2" fill="#000"/>
<rect x="625" y="731" width="1" height="2" fill="#000"/>
<rect x="625" y="816" width="1" height="2" fill="#000"/>
<rect x="128" y="817" width="7" height="1" fill="#000"/>
<rect x="681" y="817" width="7" height="1" fill="#000"/>
<rect x="128" y="812" width="7" height="1" fill="#000"/>
<rect x="681" y="812" width="7" height="1" fill="#000"/>
<rect x="128" y="808" width="7" height="1" fill="#000"/>
<rect x="681" y="808" width="7" height="1" fill="#000"/>
<rect x="128" y="803" width="7" height="1" fill="#000"/>
<rect x="681" y="803" width="7" height="1" fill="#000"/>
<rect x="128" y="798" width="7" height="1" fill="#000"/>
<rect x="681" y="798" width="7" height="1" fill="#000"/>
<rect x="128" y="793" width="7" height="1" fill="#000"/>
<rect x="681" y="793" width="7" height="1" fill="#000"/>
<rect x="128" y="789" width="7" height="1" fill="#000"/>
<rect x="681" y="789" width="7" height="1" fill="#000"/>
<rect x="128" y="784" width="7" height="1" fill="#000"/>
<rect x="681" y="784" width="7" height="1" fill="#000"/>
<rect x="128" y="779" width="7" height="1" fill="#000"/>
<rect x="681" y="779" width="7" height="1" fill="#000"/>
<rect x="128" y="774" width="7" height="1" fill="#000"/>
<rect x="681" y="774" width="7" height="1" fill="#000"/>
<rect x="128" y="769" width="7" height="1" fill="#000"/>
<rect x="681" y="769" width="7" height="1" fill="#000"/>
<rect x="128" y="765" width="7" height="1" fill="#000"/>
<rect x="681" y="765" width="7" height="1" fill="#000"/>
<rect x="128" y="760" width="7" height="1" fill="#000"/>
<rect x="681" y="760" width="7" height="1" fill="#000"/>
<rect x="128" y="755" width="7" height="1" fill="#000"/>
<rect x="681" y="755" width="7" height="1" fill="#000"/>
<rect x="128" y="750" width="7" height="1" fill="#000"/>
<rect x="681" y="750" width="7" height="1" fill="#000"/>
<rect x="128" y="746" width="7" height="1" fill="#000"/>
<rect x="681" y="746" width="7" height="1" fill="#000"/>
<rect x="128" y="741" width="7" height="1" fill="#000"/>
<rect x="681" y="741" width="7" height="1" fill="#000"/>
<rect x="128" y="736" width="7" height="1" fill="#000"/>
<rect x="681" y="736" width="7" height="1" fill="#000"/>
<rect x="128" y="731" width="7" height="1" fill="#000"/>
<rect x="681" y="731" width="7" height="1" fill="#000"/>
<rect x="128" y="793" width="12" height="1" fill="#000"/>
<rect x="676" y="793" width="12" height="1" fill="#000"/>
<rect x="128" y="769" width="12" height="1" fill="#000"/>
<rect x="676" y="769" width="12" height="1" fill="#000"/>
<rect x="128" y="746" width="12" height="1" fill="#000"/>
<rect x="676" y="746" width="12" height="1" fill="#000"/>
<text x="116.97" y="818" font-size="13.0" textLength="7.56" lengthAdjust="spacingAndGlyphs" fill="#202020">0</text>
<text x="109.46" y="799" font-size="13.0" textLength="15.07" lengthAdjust="spacingAndGlyphs" fill="#202020">50</text>
<text x="103.02" y="775" font-size="13.0" textLength="21.48" lengthAdjust="spacingAndGlyphs" fill="#202020">100</text>
<text x="103.02" y="751" font-size="13.0" textLength="21.48" lengthAdjust="spacingAndGlyphs" fill="#202020">150</text>
<rect x="128" y="774" width="560" height="1" fill="#000"/>
<rect x="128" y="817" width="560" height="1" fill="#000"/>
<rect x="128" y="903" width="560" height="1" fill="#000"/>
<rect x="128" y="817" width="1" height="87" fill="#000"/>
<rect x="687" y="817" width="1" height="87" fill="#000"/>
<rect x="190" y="817" width="1" height="2" fill="#000"/>
<rect x="190" y="902" width="1" height="2" fill="#000"/>
<rect x="252" y="817" width="1" height="2" fill="#000"/>
<rect x="252" y="902" width="1" height="2" fill="#000"/>
<rect x="314" y="817" width="1" height="3" fill="#000"/>
<rect x="314" y="901" width="1" height="3" fill="#000"/>
<rect x="376" y="817" width="1" height="2" fill="#000"/>
<rect x="376" y="902" width="1" height="2" fill="#000"/>
<rect x="439" y="817" width="1" height="2" fill="#000"/>
<rect x="439" y="902" width="1" height="2" fill="#000"/>
<rect x="501" y="817" width="1" height="3" fill="#000"/>
<rect x="501" y="901" width="1" height="3" fill="#000"/>
<rect x="563" y="817" width="1" height="2" fill="#000"/>
<rect x="563" y="902" width="1" height="2" fill="#000"/>
<rect x="625" y="817" width="1" height="2" fill="#000"/>
<rect x="625" y="902" width="1" height="2" fill="#000"/>
<rect x="128" y="903" width="12" height="1" fill="#000"/>
<rect x="676" y="903" width="12" height="1" fill="#000"/>
<rect x="128" y="899" width="7" height="1" fill="#000"/>
<rect x="681" y="899" width="7" height="1" fill="#000"/>
<rect x="128" y="896" width="7" height="1" fill="#000"/>
<rect x="681" y="896" width="7" height="1" fill="#000"/>
<rect x="128" y="892" width="7" height="1" fill="#000"/>
<rect x="681" y="892" width="7" height="1" fill="#000"/>
<rect x="128" y="889" width="12" height="1" fill="#000"/>
<rect x="676" y="889" width="12" height="1" fill="#000"/>
<rect x="128" y="885" width="7" height="1" fill="#000"/>
<rect x="681" y="885" width="7" height="1" fill="#000"/>
<rect x="128" y="882" width="7" height="1" fill="#000"/>
<rect x="681" y="882" width="7" height="1" fill="#000"/>
<rect x="128" y="878" width="7" height="1" fill="#000"/>
<rect x="681" y="878" width="7" height="1" fill="#000"/>
<rect x="128" y="874" width="12" height="1" fill="#000"/>
<rect x="676" y="874" width="12" height="1" fill="#000"/>
<rect x="128" y="871" width="7" height="1" fill="#000"/>
<rect x="681" y="871" width="7" height="1" fill="#000"/>
<rect x="128" y="867" width="7" height="1" fill="#000"/>
<rect x="681" y="867" width="7" height="1" fill="#000"/>
<rect x="128" y="864" width="7" height="1" fill="#000"/>
<rect x="681" y="864" width="7" height="1" fill="#000"/>
<rect x="128" y="860" width="12" height="1" fill="#000"/>
<rect x="676" y="860" width="12" height="1" fill="#000"/>
<rect x="128" y="856" width="7" height="1" fill="#000"/>
<rect x="681" y="856" width="7" height="1" fill="#000"/>
<rect x="128" y="853" width="7" height="1" fill="#000"/>
<rect x="681" y="853" width="7" height="1" fill="#000"/>
<rect x="128" y="849" width="7" height="1" fill="#000"/>
<rect x="681" y="849" width="7" height="1" fill="#000"/>
<rect x="128" y="846" width="12" height="1" fill="#000"/>
<rect x="676" y="846" width="12" height="1" fill="#000"/>
<rect x="128" y="842" width="7" height="1" fill="#000"/>
<rect x="681" y="842" width="7" height="1" fill="#000"/>
<rect x="128" y="839" width="7" height="1" fill="#000"/>
<rect x="681" y="839" width="7" height="1" fill="#000"/>
<rect x="128" y="835" width="7" height="1" fill="#000"/>
<rect x="681" y="835" width="7" height="1" fill="#000"/>
<rect x="128" y="831" width="12" height="1" fill="#000"/>
<rect x="676" y="831" width="12" height="1" fill="#000"/>
<rect x="128" y="828" width="7" height="1" fill="#000"/>
<rect x="681" y="828" width="7" height="1" fill="#000"/>
<rect x="128" y="824" width="7" height="1" fill="#000"/>
<rect x="681" y="824" width="7" height="1" fill="#000"/>
<rect x="128" y="821" width="7" height="1" fill="#000"/>
<rect x="681" y="821" width="7" height="1" fill="#000"/>
<rect x="128" y="817" width="12" height="1" fill="#000"/>
<rect x="676" y="817" width="12" height="1" fill="#000"/>
<rect x="128" y="860" width="560" height="1" fill="#000"/>
<rect x="128" y="59" width="40" height="1" fill="#000"/>
<rect x="168" y="60" width="7" height="1" fill="#000"/>
<rect x="175" y="61" width="12" height="1" fill="#000"/>
<rect x="187" y="62" width="37" height="1" fill="#000"/>
<rect x="224" y="63" width="7" height="1" fill="#000"/>
<rect x="231" y="64" width="5" height="1" fill="#000"/>
<rect x="236" y="65" width="3" height="1" fill="#000"/>
<rect x="239" y="66" width="4" height="1" fill="#000"/>
<rect x="243" y="67" width="6" height="1" fill="#000"/>
<rect x="249" y="68" width="6" height="1" fill="#000"/>
<rect x="255" y="69" width="7" height="1" fill="#000"/>
<rect x="262" y="70" width="29" height="1" fill="#000"/>
<rect x="291" y="69" width="4" height="1" fill="#000"/>
<rect x="295" y="68" width="41" height="1" fill="#000"/>
<rect x="336" y="69" width="6" height="1" fill="#000"/>
<rect x="342" y="70" width="5" height="1" fill="#000"/>
<rect x="347" y="71" width="5" height="1" fill="#000"/>
<rect x="352" y="72" width="4" height="1" fill="#000"/>
<rect x="356" y="73" width="4" height="1" fill="#000"/>
<rect x="360" y="74" width="3" height="1" fill="#000"/>
<rect x="363" y="75" width="4" height="1" fill="#000"/>
<rect x="367" y="76" width="5" height="1" fill="#000"/>
<rect x="372" y="77" width="3" height="1" fill="#000"/>
<rect x="375" y="78" width="3" height="1" fill="#000"/>
<rect x="378" y="79" width="4" height="1" fill="#000"/>
<rect x="382" y="80" width="3" height="1" fill="#000"/>
<rect x="385" y="81" width="3" height="1" fill="#000"/>
<rect x="388" y="82" width="4" height="1" fill="#000"/>
<rect x="392" y="83" width="31" height="1" fill="#000"/>
<rect x="423" y="84" width="36" height="1" fill="#000"/>
<rect x="459" y="85" width="3" height="1" fill="#000"/>
<rect x="462" y="86" width="3" height="1" fill="#000"/>
<rect x="465" y="87" width="4" height="1" fill="#000"/>
<rect x="469" y="88" width="3" height="1" fill="#000"/>
<rect x="472" y="89" width="3" height="1" fill="#000"/>
<rect x="475" y="90" width="4" height="1" fill="#000"/>
<rect x="479" y="91" width="6" height="1" fill="#000"/>
<rect x="485" y="92" width="93" height="1" fill="#000"/>
<rect x="578" y="91" width="5" height="1" fill="#000"/>
<rect x="583" y="90" width="4" height="1" fill="#000"/>
<rect x="587" y="89" width="3" height="1" fill="#000"/>
<rect x="590" y="88" width="3" height="1" fill="#000"/>
<rect x="593" y="87" width="4" height="1" fill="#000"/>
<rect x="597" y="86" width="12" height="1" fill="#000"/>
<rect x="609" y="85" width="12" height="1" fill="#000"/>
<rect x="621" y="84" width="3" height="1" fill="#000"/>
<rect x="624" y="83" width="3" height="1" fill="#000"/>
<rect x="627" y="82" width="3" height="1" fill="#000"/>
<rect x="630" y="81" width="3" height="1" fill="#000"/>
<rect x="633" y="80" width="2" height="1" fill="#000"/>
<rect x="635" y="79" width="1" height="1" fill="#000"/>
<rect x="636" y="78" width="41" height="1" fill="#000"/>
<rect x="677" y="79" width="3" height="1" fill="#000"/>
<rect x="680" y="80" width="3" height="1" fill="#000"/>
<rect x="683" y="81" width="3" height="1" fill="#000"/>
<rect x="128" y="124" width="339" height="5" fill="#ffe600"/>
<rect x="467" y="124" width="143" height="5" fill="#000"/>
<rect x="610" y="124" width="77" height="5" fill="#ffe600"/>
<text transform="translate(76.20,107.92) rotate(-90)" x="0" y="0" font-size="12.6" textLength="58.76" lengthAdjust="spacingAndGlyphs" fill="#202020">proxy_ae</text>
<text transform="translate(88.00,91.25) rotate(-90)" x="0" y="0" font-size="12.6" textLength="25.29" lengthAdjust="spacingAndGlyphs" fill="#202020">[nT]</text>
<text transform="translate(42.10,181.50) rotate(-90)" x="0" y="0" font-size="12.6" textLength="15.70" lengthAdjust="spacingAndGlyphs" fill="#202020">ela</text>
<text transform="translate(52.20,183.16) rotate(-90)" x="0" y="0" font-size="12.6" textLength="18.64" lengthAdjust="spacingAndGlyphs" fill="#202020">pef</text>
<text transform="translate(63.00,180.56) rotate(-90)" x="0" y="0" font-size="12.6" textLength="14.61" lengthAdjust="spacingAndGlyphs" fill="#202020">en</text>
<text transform="translate(73.80,201.87) rotate(-90)" x="0" y="0" font-size="12.6" textLength="56.67" lengthAdjust="spacingAndGlyphs" fill="#202020">spec2plot</text>
<text transform="translate(83.80,187.61) rotate(-90)" x="0" y="0" font-size="12.6" textLength="28.75" lengthAdjust="spacingAndGlyphs" fill="#202020">omni</text>
<text transform="translate(95.80,188.87) rotate(-90)" x="0" y="0" font-size="12.6" textLength="30.94" lengthAdjust="spacingAndGlyphs" fill="#202020">[keV]</text>
<text transform="translate(42.10,267.00) rotate(-90)" x="0" y="0" font-size="12.6" textLength="15.70" lengthAdjust="spacingAndGlyphs" fill="#202020">ela</text>
<text transform="translate(52.20,268.66) rotate(-90)" x="0" y="0" font-size="12.6" textLength="18.64" lengthAdjust="spacingAndGlyphs" fill="#202020">pef</text>
<text transform="translate(63.00,266.06) rotate(-90)" x="0" y="0" font-size="12.6" textLength="14.61" lengthAdjust="spacingAndGlyphs" fill="#202020">en</text>
<text transform="translate(73.80,287.37) rotate(-90)" x="0" y="0" font-size="12.6" textLength="56.67" lengthAdjust="spacingAndGlyphs" fill="#202020">spec2plot</text>
<text transform="translate(83.80,271.31) rotate(-90)" x="0" y="0" font-size="12.6" textLength="25.22" lengthAdjust="spacingAndGlyphs" fill="#202020">anti</text>
<text transform="translate(95.80,274.37) rotate(-90)" x="0" y="0" font-size="12.6" textLength="30.94" lengthAdjust="spacingAndGlyphs" fill="#202020">[keV]</text>
<text transform="translate(42.10,353.00) rotate(-90)" x="0" y="0" font-size="12.6" textLength="15.70" lengthAdjust="spacingAndGlyphs" fill="#202020">ela</text>
<text transform="translate(52.20,354.66) rotate(-90)" x="0" y="0" font-size="12.6" textLength="18.64" lengthAdjust="spacingAndGlyphs" fill="#202020">pef</text>
<text transform="translate(63.00,352.06) rotate(-90)" x="0" y="0" font-size="12.6" textLength="14.61" lengthAdjust="spacingAndGlyphs" fill="#202020">en</text>
<text transform="translate(73.80,373.37) rotate(-90)" x="0" y="0" font-size="12.6" textLength="56.67" lengthAdjust="spacingAndGlyphs" fill="#202020">spec2plot</text>
<text transform="translate(83.80,357.56) rotate(-90)" x="0" y="0" font-size="12.6" textLength="25.03" lengthAdjust="spacingAndGlyphs" fill="#202020">perp</text>
<text transform="translate(95.80,360.37) rotate(-90)" x="0" y="0" font-size="12.6" textLength="30.94" lengthAdjust="spacingAndGlyphs" fill="#202020">[keV]</text>
<text transform="translate(42.10,439.00) rotate(-90)" x="0" y="0" font-size="12.6" textLength="15.70" lengthAdjust="spacingAndGlyphs" fill="#202020">ela</text>
<text transform="translate(52.20,440.66) rotate(-90)" x="0" y="0" font-size="12.6" textLength="18.64" lengthAdjust="spacingAndGlyphs" fill="#202020">pef</text>
<text transform="translate(63.00,438.06) rotate(-90)" x="0" y="0" font-size="12.6" textLength="14.61" lengthAdjust="spacingAndGlyphs" fill="#202020">en</text>
<text transform="translate(73.80,459.37) rotate(-90)" x="0" y="0" font-size="12.6" textLength="56.67" lengthAdjust="spacingAndGlyphs" fill="#202020">spec2plot</text>
<text transform="translate(83.80,443.81) rotate(-90)" x="0" y="0" font-size="12.6" textLength="25.01" lengthAdjust="spacingAndGlyphs" fill="#202020">para</text>
<text transform="translate(95.80,446.37) rotate(-90)" x="0" y="0" font-size="12.6" textLength="30.94" lengthAdjust="spacingAndGlyphs" fill="#202020">[keV]</text>
<text transform="translate(38.10,525.10) rotate(-90)" x="0" y="0" font-size="12.6" textLength="15.70" lengthAdjust="spacingAndGlyphs" fill="#202020">ela</text>
<text transform="translate(48.80,526.33) rotate(-90)" x="0" y="0" font-size="12.6" textLength="17.81" lengthAdjust="spacingAndGlyphs" fill="#202020">pef</text>
<text transform="translate(59.00,523.85) rotate(-90)" x="0" y="0" font-size="12.6" textLength="12.95" lengthAdjust="spacingAndGlyphs" fill="#202020">pa</text>
<text transform="translate(69.60,545.52) rotate(-90)" x="0" y="0" font-size="12.6" textLength="56.77" lengthAdjust="spacingAndGlyphs" fill="#202020">spec2plot</text>
<text transform="translate(81.00,535.08) rotate(-90)" x="0" y="0" font-size="12.6" textLength="36.11" lengthAdjust="spacingAndGlyphs" fill="#202020">ch0LC</text>
<text transform="translate(92.20,533.03) rotate(-90)" x="0" y="0" font-size="12.6" textLength="32.05" lengthAdjust="spacingAndGlyphs" fill="#202020">[deg]</text>
<text transform="translate(38.10,611.10) rotate(-90)" x="0" y="0" font-size="12.6" textLength="15.70" lengthAdjust="spacingAndGlyphs" fill="#202020">ela</text>
<text transform="translate(48.80,612.33) rotate(-90)" x="0" y="0" font-size="12.6" textLength="17.81" lengthAdjust="spacingAndGlyphs" fill="#202020">pef</text>
<text transform="translate(59.00,609.85) rotate(-90)" x="0" y="0" font-size="12.6" textLength="12.95" lengthAdjust="spacingAndGlyphs" fill="#202020">pa</text>
<text transform="translate(69.60,631.52) rotate(-90)" x="0" y="0" font-size="12.6" textLength="56.77" lengthAdjust="spacingAndGlyphs" fill="#202020">spec2plot</text>
<text transform="translate(81.00,621.08) rotate(-90)" x="0" y="0" font-size="12.6" textLength="36.11" lengthAdjust="spacingAndGlyphs" fill="#202020">ch1LC</text>
<text transform="translate(92.20,619.03) rotate(-90)" x="0" y="0" font-size="12.6" textLength="32.05" lengthAdjust="spacingAndGlyphs" fill="#202020">[deg]</text>
<text transform="translate(38.10,697.10) rotate(-90)" x="0" y="0" font-size="12.6" textLength="15.70" lengthAdjust="spacingAndGlyphs" fill="#202020">ela</text>
<text transform="translate(48.80,698.33) rotate(-90)" x="0" y="0" font-size="12.6" textLength="17.81" lengthAdjust="spacingAndGlyphs" fill="#202020">pef</text>
<text transform="translate(59.00,695.85) rotate(-90)" x="0" y="0" font-size="12.6" textLength="12.95" lengthAdjust="spacingAndGlyphs" fill="#202020">pa</text>
<text transform="translate(69.60,717.52) rotate(-90)" x="0" y="0" font-size="12.6" textLength="56.77" lengthAdjust="spacingAndGlyphs" fill="#202020">spec2plot</text>
<text transform="translate(81.00,707.08) rotate(-90)" x="0" y="0" font-size="12.6" textLength="36.11" lengthAdjust="spacingAndGlyphs" fill="#202020">ch2LC</text>
<text transform="translate(92.20,705.03) rotate(-90)" x="0" y="0" font-size="12.6" textLength="32.05" lengthAdjust="spacingAndGlyphs" fill="#202020">[deg]</text>
<text transform="translate(38.10,783.10) rotate(-90)" x="0" y="0" font-size="12.6" textLength="15.70" lengthAdjust="spacingAndGlyphs" fill="#202020">ela</text>
<text transform="translate(48.80,784.33) rotate(-90)" x="0" y="0" font-size="12.6" textLength="17.81" lengthAdjust="spacingAndGlyphs" fill="#202020">pef</text>
<text transform="translate(59.00,781.85) rotate(-90)" x="0" y="0" font-size="12.6" textLength="12.95" lengthAdjust="spacingAndGlyphs" fill="#202020">pa</text>
<text transform="translate(69.60,803.52) rotate(-90)" x="0" y="0" font-size="12.6" textLength="56.77" lengthAdjust="spacingAndGlyphs" fill="#202020">spec2plot</text>
<text transform="translate(81.00,793.08) rotate(-90)" x="0" y="0" font-size="12.6" textLength="36.11" lengthAdjust="spacingAndGlyphs" fill="#202020">ch3LC</text>
<text transform="translate(92.20,791.03) rotate(-90)" x="0" y="0" font-size="12.6" textLength="32.05" lengthAdjust="spacingAndGlyphs" fill="#202020">[deg]</text>
<text transform="translate(50.20,875.10) rotate(-90)" x="0" y="0" font-size="14.0" textLength="28.58" lengthAdjust="spacingAndGlyphs" fill="#202020">IGRF</text>
<text transform="translate(62.40,873.66) rotate(-90)" x="0" y="0" font-size="14.0" textLength="25.73" lengthAdjust="spacingAndGlyphs" fill="#202020">[nT]</text>
<text x="700.93" y="83" font-size="14.0" textLength="58.76" lengthAdjust="spacingAndGlyphs" fill="#202020">proxy_AE</text>
<text x="85.04" y="826" font-size="13.0" textLength="33.54" lengthAdjust="spacingAndGlyphs" fill="#202020">6×10</text>
<text x="118.56" y="820" font-size="9.6" textLength="5.74" lengthAdjust="spacingAndGlyphs" fill="#202020">4</text>
<text x="85.46" y="836" font-size="13.0" textLength="33.11" lengthAdjust="spacingAndGlyphs" fill="#202020">4×10</text>
<text x="118.56" y="830" font-size="9.6" textLength="5.74" lengthAdjust="spacingAndGlyphs" fill="#202020">4</text>
<text x="85.05" y="851" font-size="13.0" textLength="33.53" lengthAdjust="spacingAndGlyphs" fill="#202020">2×10</text>
<text x="118.56" y="845" font-size="9.6" textLength="5.74" lengthAdjust="spacingAndGlyphs" fill="#202020">4</text>
<text x="73.72" y="879" font-size="13.0" textLength="44.90" lengthAdjust="spacingAndGlyphs" fill="#202020">−2×10</text>
<text x="118.56" y="873" font-size="9.6" textLength="5.74" lengthAdjust="spacingAndGlyphs" fill="#202020">4</text>
<text x="73.72" y="894" font-size="13.0" textLength="44.90" lengthAdjust="spacingAndGlyphs" fill="#202020">−4×10</text>
<text x="118.56" y="888" font-size="9.6" textLength="5.74" lengthAdjust="spacingAndGlyphs" fill="#202020">4</text>
<text x="73.72" y="904" font-size="13.0" textLength="44.90" lengthAdjust="spacingAndGlyphs" fill="#202020">−6×10</text>
<text x="118.56" y="898" font-size="9.6" textLength="5.74" lengthAdjust="spacingAndGlyphs" fill="#202020">4</text>
<text x="115.97" y="866" font-size="13.0" textLength="7.56" lengthAdjust="spacingAndGlyphs" fill="#202020">0</text>
<polyline points="128.5,878.6 145.0,869.5 161.0,860.5 175.0,852.5 185.0,846.5 195.0,841.5 205.0,837.0 211.0,834.9 217.0,832.6 222.0,830.9 227.0,829.2 232.0,827.9 235.0,827.4 240.0,826.5 248.7,826.5 248.7,825.5 278.5,825.5 278.5,826.5 294.0,826.5 294.0,827.5 331.0,827.5 331.0,828.5 343.6,828.5 346.0,829.5 353.0,830.5 356.0,830.5 365.0,831.5 371.0,833.0 377.0,834.5 382.0,836.0 388.0,837.8 394.0,839.6 400.0,841.4 406.0,843.3 412.0,845.3 418.0,847.3 424.0,849.3 430.0,851.3 433.0,852.3 443.0,855.2 448.0,857.2 453.0,858.7 457.0,860.0 462.0,861.7 468.0,863.2 473.0,864.7 478.0,866.0 483.0,867.2 488.0,868.4 493.0,869.6 498.0,870.6 503.0,871.6 510.0,872.5 520.0,874.6 530.0,877.4 540.0,880.1 550.0,883.1 560.0,885.7 570.0,888.5 580.0,890.5 587.0,891.5 587.4,892.5 594.6,892.5 594.6,893.5 601.6,893.5 601.6,894.5 611.0,894.5 611.0,895.5 627.4,895.5 627.4,896.5 639.0,896.5 639.0,895.5 653.4,895.5 653.4,894.5 661.4,894.5 661.4,893.5 667.4,893.5 667.4,892.5 672.8,892.5 672.8,891.5 677.5,891.5 677.5,890.5 681.6,890.5 681.6,889.5 685.5,889.5 685.5,888.5 686.5,888.5" fill="none" stroke="#ff0000" stroke-width="1" shape-rendering="crispEdges"/>
<polyline points="128.5,840.5 130.0,839.5 137.4,839.5 137.4,838.5 146.9,838.5 146.9,837.5 177.7,837.5 177.7,838.5 186.6,838.5 186.6,839.5 193.6,839.5 193.6,840.5 198.0,840.5 198.0,841.5 202.0,841.5 207.0,842.8 212.0,844.1 217.0,845.3 222.0,846.6 227.0,847.8 232.0,849.1 237.0,850.3 242.0,851.5 247.0,852.8 252.0,854.0 257.0,855.2 262.0,856.2 266.0,857.5 272.7,857.5 272.7,858.5 280.0,858.5 280.0,860.5 302.9,860.5 302.9,859.5 309.5,859.5 310.5,857.7 318.7,857.7 318.7,856.7 328.2,856.7 328.2,855.5 336.6,855.5 336.6,854.5 342.6,854.5 342.6,853.5 348.5,853.5 348.5,852.6 354.5,852.6 354.5,851.6 359.0,851.6 359.0,850.6 365.4,850.6 365.4,849.6 371.9,849.6 371.9,848.6 379.3,848.6 379.3,847.6 387.8,847.6 387.8,846.6 398.7,846.6 398.7,845.6 446.4,845.5 457.3,845.5 457.3,846.5 471.3,846.5 471.3,847.5 487.6,847.5 487.6,848.5 523.4,848.5 523.4,849.5 548.3,849.5 548.3,850.5 558.7,850.5 558.7,851.5 566.6,851.5 566.6,852.5 573.6,852.5 573.6,853.5 578.6,853.5 584.0,855.4 587.0,855.4 593.0,857.2 597.0,860.2 600.0,864.2 603.4,867.5 606.9,865.7 610.8,864.7 616.8,863.0 622.8,861.4 628.7,859.9 636.7,857.9 646.6,855.4 656.5,853.3 664.0,851.3 669.7,850.3 679.7,847.8 686.5,846.3" fill="none" stroke="#0000ff" stroke-width="1" shape-rendering="crispEdges"/>
<polyline points="138.0,861.5 179.0,861.5 179.0,862.5 233.0,862.5 233.0,861.5 256.6,861.5 257.0,860.5 273.5,860.5 273.5,859.5 292.4,859.5 292.4,858.5 310.8,858.5 310.8,859.5 314.8,859.5 315.0,860.5 318.2,860.5 318.2,861.5 328.2,861.5 328.2,862.5 360.0,862.5 360.0,863.5 422.0,863.5 422.0,862.5 451.4,862.5 451.4,861.5 470.8,861.5 471.0,860.5 486.2,860.5 486.2,859.5 500.6,859.5 500.6,858.5 514.5,858.5 514.5,857.5 529.4,857.5 529.4,856.5 545.3,856.5 545.3,855.5 564.1,855.5 564.1,854.5 584.0,854.5 584.0,853.5 599.4,853.5 603.0,859.7 606.9,864.2 609.9,865.5 643.6,865.5 643.6,864.5 659.8,864.5 659.8,863.5 674.7,863.5 674.7,862.5 686.5,862.5" fill="none" stroke="#00ff00" stroke-width="1" shape-rendering="crispEdges"/>
<polyline points="128.5,833.5 131.5,833.5 131.5,834.5 135.0,834.5 138.0,835.6 144.0,835.6 144.0,836.5 153.0,836.5 153.0,837.5 170.0,837.5 170.0,836.5 178.6,836.5 178.6,835.5 184.6,835.5 184.6,834.5 189.6,834.5 189.6,833.5 194.5,833.5 194.5,832.5 200.5,832.5 200.5,831.5 205.0,831.5 205.0,830.5 209.0,830.5 209.0,829.5 214.4,829.5 214.4,828.5 220.4,828.5 220.4,827.5 227.8,827.5 227.8,826.5 235.3,826.5 235.3,825.5 278.0,825.5 279.0,826.5 294.9,826.5 294.9,827.5 343.6,827.5 343.6,828.3 356.0,828.9 365.0,830.1 372.0,831.1 378.0,832.1 384.0,833.1 391.0,834.4 398.0,835.7 405.0,837.1 412.0,838.6 418.0,840.0 424.0,841.3 430.0,842.3 433.0,843.3 439.5,843.5 439.5,844.5 446.4,844.5 446.4,845.5 457.3,845.5 457.3,846.5 487.1,846.5 487.1,845.5 499.1,845.5 499.1,844.5 507.0,844.5 507.0,843.5 510.0,843.5 530.0,839.3 550.0,834.9 570.0,830.9 581.5,829.0 581.5,828.2 587.0,828.2 596.0,827.1 606.0,825.9 619.0,824.9 630.0,824.5 648.9,824.5 648.9,825.5 661.8,825.5 661.8,826.5 670.7,826.5 670.7,827.5 678.7,827.5 678.7,828.5 686.5,828.5" fill="none" stroke="#000" stroke-width="1" shape-rendering="crispEdges"/>
<rect x="128" y="860" width="560" height="1" fill="#000"/>
<rect x="128" y="817" width="1" height="87" fill="#000"/>
<rect x="687" y="817" width="1" height="87" fill="#000"/>
<text x="699.93" y="830" font-size="14.0" textLength="7.35" lengthAdjust="spacingAndGlyphs" fill="#202020">T</text>
<text x="700.68" y="847" font-size="14.0" textLength="9.83" lengthAdjust="spacingAndGlyphs" fill="#0000ff">N</text>
<text x="700.83" y="863" font-size="14.0" textLength="7.88" lengthAdjust="spacingAndGlyphs" fill="#00ff00">E</text>
<text x="700.80" y="889" font-size="14.0" textLength="8.78" lengthAdjust="spacingAndGlyphs" fill="#ff0000">D</text>
<g font-weight="bold">
<text transform="translate(694.30,904.35) rotate(-90)" x="0" y="0" font-size="7.4" textLength="92.90" lengthAdjust="spacingAndGlyphs" fill="#202020">Sun Aug 27 08:05:28 2023</text>
</g>
<text x="8.21" y="922" font-size="13.0" textLength="86.79" lengthAdjust="spacingAndGlyphs" fill="#202020">2020 Jun 07</text>
<text x="8.28" y="934" font-size="13.0" textLength="81.01" lengthAdjust="spacingAndGlyphs" fill="#202020">GLON (east)</text>
<text x="7.90" y="946" font-size="13.0" textLength="88.93" lengthAdjust="spacingAndGlyphs" fill="#202020">MLAT−igrf(dip)</text>
<text x="7.80" y="958" font-size="13.0" textLength="87.51" lengthAdjust="spacingAndGlyphs" fill="#202020">MLT−igrf(dip)</text>
<text x="7.72" y="970" font-size="13.0" textLength="70.85" lengthAdjust="spacingAndGlyphs" fill="#202020">L−igrf(dip)</text>
<text x="111.92" y="922" font-size="13.0" textLength="33.16" lengthAdjust="spacingAndGlyphs" fill="#202020">0900</text>
<text x="111.47" y="934" font-size="13.0" textLength="33.68" lengthAdjust="spacingAndGlyphs" fill="#202020">120.1</text>
<text x="82.71" y="946" font-size="13.0" textLength="91.78" lengthAdjust="spacingAndGlyphs" fill="#202020">−26.0(−22.8)</text>
<text x="93.85" y="958" font-size="13.0" textLength="69.09" lengthAdjust="spacingAndGlyphs" fill="#202020">16.8(16.9)</text>
<text x="102.35" y="970" font-size="13.0" textLength="52.09" lengthAdjust="spacingAndGlyphs" fill="#202020">1.3(1.3)</text>
<text x="298.22" y="922" font-size="13.0" textLength="33.16" lengthAdjust="spacingAndGlyphs" fill="#202020">0930</text>
<text x="295.72" y="934" font-size="13.0" textLength="38.25" lengthAdjust="spacingAndGlyphs" fill="#202020">305.8</text>
<text x="279.63" y="946" font-size="13.0" textLength="70.63" lengthAdjust="spacingAndGlyphs" fill="#202020">82.3(85.3)</text>
<text x="288.00" y="958" font-size="13.0" textLength="53.77" lengthAdjust="spacingAndGlyphs" fill="#202020">7.6(8.2)</text>
<text x="275.68" y="970" font-size="13.0" textLength="78.57" lengthAdjust="spacingAndGlyphs" fill="#202020">56.5(157.3)</text>
<text x="485.12" y="922" font-size="13.0" textLength="31.64" lengthAdjust="spacingAndGlyphs" fill="#202020">1000</text>
<text x="481.93" y="934" font-size="13.0" textLength="38.37" lengthAdjust="spacingAndGlyphs" fill="#202020">282.0</text>
<text x="455.41" y="946" font-size="13.0" textLength="91.78" lengthAdjust="spacingAndGlyphs" fill="#202020">−28.5(−28.1)</text>
<text x="474.84" y="958" font-size="13.0" textLength="53.31" lengthAdjust="spacingAndGlyphs" fill="#202020">4.6(4.6)</text>
<text x="475.05" y="970" font-size="13.0" textLength="52.09" lengthAdjust="spacingAndGlyphs" fill="#202020">1.3(1.4)</text>
<text x="671.42" y="922" font-size="13.0" textLength="31.64" lengthAdjust="spacingAndGlyphs" fill="#202020">1030</text>
<text x="672.27" y="934" font-size="13.0" textLength="30.18" lengthAdjust="spacingAndGlyphs" fill="#202020">98.4</text>
<text x="641.71" y="946" font-size="13.0" textLength="91.78" lengthAdjust="spacingAndGlyphs" fill="#202020">−40.1(−36.5)</text>
<text x="652.85" y="958" font-size="13.0" textLength="69.09" lengthAdjust="spacingAndGlyphs" fill="#202020">16.7(16.8)</text>
<text x="661.35" y="970" font-size="13.0" textLength="52.09" lengthAdjust="spacingAndGlyphs" fill="#202020">1.7(1.7)</text>
<text x="588.91" y="988" font-size="10.6" textLength="128.03" lengthAdjust="spacingAndGlyphs" fill="#202020">nflux: #/(cm^2 s sr MeV)</text>
<text x="589.12" y="999" font-size="10.6" textLength="183.89" lengthAdjust="spacingAndGlyphs" fill="#202020">Created: Sun Aug 27 15:05:29 2023</text>
</svg>
</body></html>
